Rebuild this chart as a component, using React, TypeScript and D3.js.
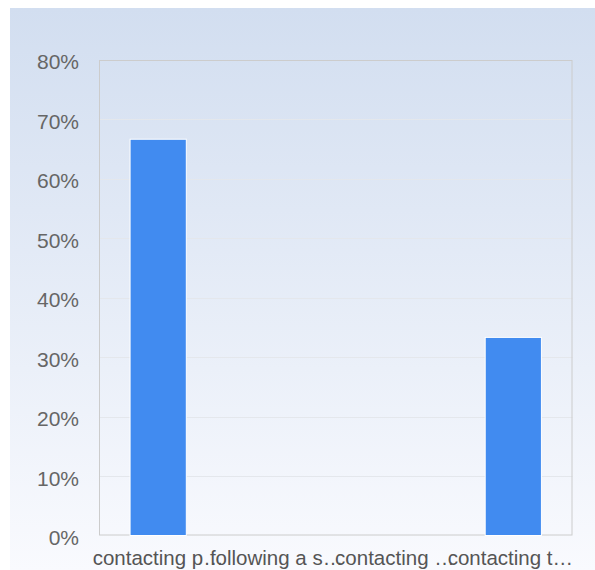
import React from "react";
import * as d3 from "d3";

const categories = ["contacting p…", "following a s…", "contacting …", "contacting t…"];
const values = [0.6667, 0, 0, 0.3333];
const yTicks = [0, 0.1, 0.2, 0.3, 0.4, 0.5, 0.6, 0.7, 0.8];

const W = 595;
const H = 570;
const M = { left: 99, right: 22.5, top: 60, bottom: 34.5 };

export default function App() {
  const x = d3
    .scaleBand<string>()
    .domain(categories)
    .range([M.left, W - M.right])
    .paddingInner(0)
    .paddingOuter(0);
  const y = d3.scaleLinear().domain([0, 0.8]).range([H - M.bottom, M.top]);
  const bw = x.bandwidth() * 0.475;
  const fmt = d3.format(".0%");
  const font = "'Liberation Sans', Arial, Helvetica, sans-serif";

  return (
    <div style={{ position: "fixed", left: 0, top: 0 }}>
      <svg width={W} height={H} style={{ display: "block" }}>
        <defs>
          <linearGradient id="bg" x1="0" y1="0" x2="0" y2="1">
            <stop offset="0%" stopColor="#d2def0" />
            <stop offset="100%" stopColor="#f9fafe" />
          </linearGradient>
        </defs>
        <rect x={10} y={8} width={W - 10} height={H - 8} fill="url(#bg)" />
        {yTicks.map((t) => (
          <g key={t}>
            {t > 0 && t < 0.8 && (
              <line
                x1={M.left}
                x2={W - M.right}
                y1={Math.round(y(t)) + 0.5}
                y2={Math.round(y(t)) + 0.5}
                stroke="#e4e7ec"
                strokeWidth={1}
              />
            )}
            <text
              x={79}
              y={y(t)}
              dy="0.45em"
              textAnchor="end"
              fontFamily={font}
              fontSize={21}
              fill="#666"
            >
              {fmt(t)}
            </text>
          </g>
        ))}
        <rect
          x={M.left + 0.5}
          y={M.top + 0.5}
          width={W - M.right - M.left - 1}
          height={H - M.bottom - M.top - 1}
          fill="none"
          stroke="#cccccc"
          strokeWidth={1}
        />
        {categories.map((c, i) =>
          values[i] > 0 ? (
            <rect
              key={c}
              x={(x(c) as number) + x.bandwidth() / 2 - bw / 2}
              y={y(values[i])}
              width={bw}
              height={y(0) - y(values[i])}
              fill="#418bf0"
              stroke="#ffffff"
              strokeWidth={1}
            />
          ) : null
        )}
        {categories.map((c, i) => (
          <text
            key={c}
            x={(x(c) as number) + x.bandwidth() / 2 + (i === 3 ? -3 : 0)}
            y={565}
            textAnchor="middle"
            fontFamily={font}
            fontSize={20.5}
            fill="#555"
          >
            {c}
          </text>
        ))}
      </svg>
    </div>
  );
}
